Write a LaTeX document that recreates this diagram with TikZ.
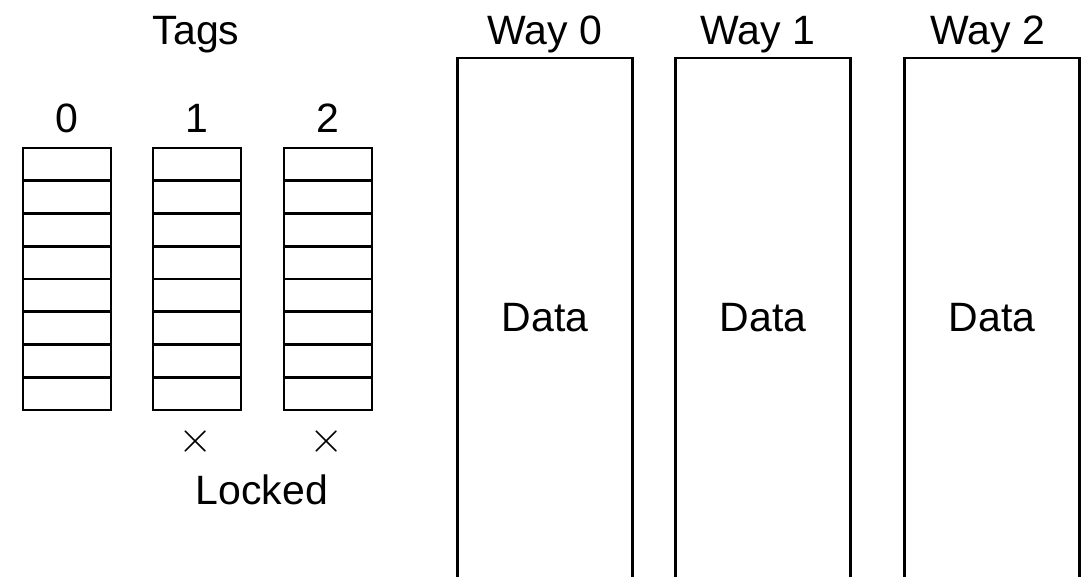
\documentclass[tikz,border=0pt]{standalone}
\usepackage{fontspec}
\setmainfont{Liberation Sans}
\usetikzlibrary{positioning}

\begin{document}
\begin{tikzpicture}[x=1pt,y=1pt,
 cell/.style={draw,line width=2.8pt,minimum width=88pt,minimum height=32.75pt,inner sep=0pt,outer sep=0pt},
 way/.style={draw,line width=2.6pt,minimum width=175pt,minimum height=620pt,anchor=north,inner sep=0pt,outer sep=0pt},
 lbl/.style={font=\fontsize{41}{48}\selectfont,inner sep=0pt},
 cross/.style={inner sep=0pt}]
 \useasboundingbox (0,0) rectangle (1083,577);
 \clip (0,0) rectangle (1083,577);
 % tag array: three columns of eight entries
 \node[lbl,anchor=base](tags) at (196,532){Tags};
 \foreach \c/\x in {0/67,1/197,2/328}{
  \foreach \r in {1,...,8}
   \node[cell](t\c-\r) at (\x,{412.625-(\r-1)*32.75}){};
  \node[lbl,above=15pt of t\c-1](n\c){\c};
 }
 % locked ways
 \node[cross](x1) at (196,135){\scalebox{4.4}{$\times$}};
 \node[cross](x2) at (327,135){\scalebox{4.4}{$\times$}};
 \node[lbl,anchor=base](locked) at (262,72){Locked};
 % data arrays
 \foreach \w/\x/\lx in {0/545/545,1/763/758,2/992/988}{
  \node[way](way\w) at (\x,519){};
  \node[lbl,anchor=base] at (\lx,532){Way \w};
  \node[lbl](d\w) at (\x,259){Data};
 }
\end{tikzpicture}
\end{document}
